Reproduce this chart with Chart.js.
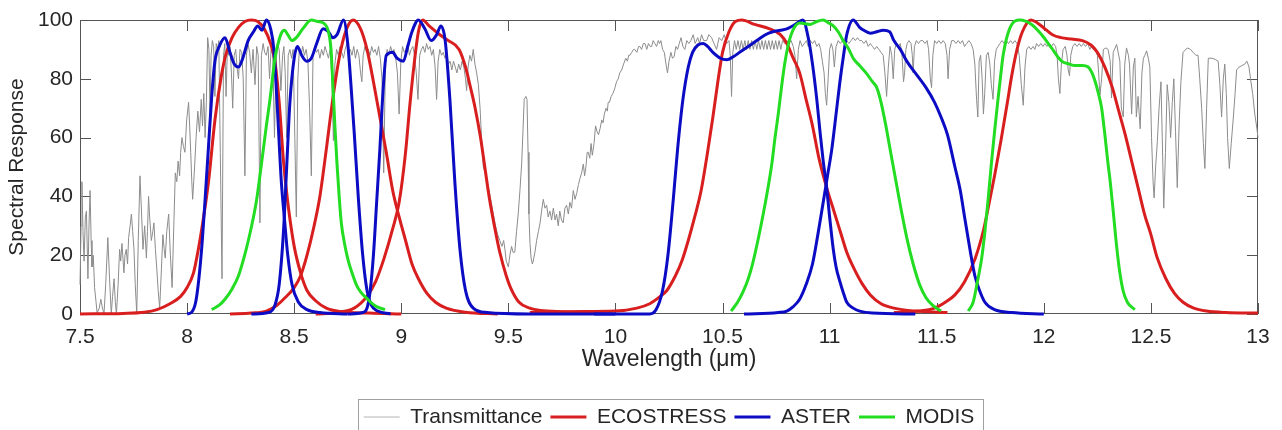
<!DOCTYPE html>
<html>
<head>
<meta charset="utf-8">
<title>Spectral Response</title>
<script src="https://cdn.jsdelivr.net/npm/chart.js@4.4.1/dist/chart.umd.min.js"></script>
<style>
    html, body { margin: 0; padding: 0; background: #ffffff; }
    canvas { display: block; }
</style>
</head>
<body>
<canvas id="grafico-resposta" width="1282" height="430"></canvas>
<script>
// tick labels
const xTicks = [7.5, 8, 8.5, 9, 9.5, 10, 10.5, 11, 11.5, 12, 12.5, 13];
const yTicks = [0, 20, 40, 60, 80, 100];

// legend entries
const legendNames = ['Transmittance', 'ECOSTRESS', 'ASTER', 'MODIS'];

// atmospheric transmittance [wavelength um, %]
const transmittance = [
    [7.500,10],[7.505,30],[7.509,45],[7.514,28],[7.519,18],[7.525,33],[7.530,35],[7.537,12],[7.542,30],[7.547,42],
    [7.552,25],[7.556,16],[7.562,20],[7.568,9],[7.575,4],[7.580,0.3],[7.590,2],[7.597,5],[7.605,2],[7.612,0],
    [7.620,10],[7.630,26],[7.638,12],[7.646,0],[7.652,6],[7.659,12],[7.665,4],[7.670,0],[7.678,10],[7.685,22],
    [7.690,18],[7.696,24],[7.705,14],[7.710,20],[7.716,22],[7.722,17],[7.727,26],[7.734,30],[7.740,34],[7.746,28],
    [7.752,22],[7.758,10],[7.765,0],[7.772,25],[7.780,47],[7.787,35],[7.794,22],[7.802,30],[7.810,19],[7.815,28],
    [7.820,40],[7.826,32],[7.833,25],[7.840,28],[7.845,31],[7.852,22],[7.858,16],[7.865,8],[7.872,2],[7.880,15],
    [7.887,27],[7.893,22],[7.898,19],[7.905,28],[7.914,34],[7.922,20],[7.930,9],[7.938,30],[7.945,48],[7.952,45],
    [7.958,52],[7.965,47],[7.970,55],[7.976,60],[7.983,57],[7.990,55],[7.998,66],[8.007,72],[8.012,64],[8.017,55],
    [8.022,45],[8.026,39],[8.031,45],[8.035,50],[8.042,60],[8.050,69],[8.058,62],[8.066,73],[8.072,64],[8.078,75],
    [8.084,60],[8.090,72],[8.096,94],[8.102,90],[8.107,68],[8.112,88],[8.118,93],[8.124,91],[8.130,74],[8.136,92],
    [8.142,90],[8.148,93],[8.155,55],[8.163,12],[8.170,88],[8.176,92],[8.182,74],[8.188,90],[8.194,88],[8.200,91],
    [8.207,82],[8.213,70],[8.220,88],[8.227,90],[8.233,84],[8.240,80],[8.247,90],[8.255,89],[8.262,80],[8.270,47],
    [8.277,88],[8.284,92],[8.292,89],[8.300,82],[8.308,90],[8.317,78],[8.325,91],[8.332,88],[8.340,31],[8.347,88],
    [8.355,92],[8.362,89],[8.370,88],[8.378,91],[8.385,80],[8.392,90],[8.400,88],[8.408,60],[8.415,85],[8.422,92],
    [8.430,90],[8.438,76],[8.446,88],[8.452,91],[8.458,82],[8.465,60],[8.472,88],[8.480,90],[8.488,87],[8.495,90],
    [8.503,60],[8.510,33],[8.517,80],[8.524,90],[8.532,88],[8.540,91],[8.548,88],[8.556,90],[8.564,86],[8.572,70],
    [8.580,47],[8.588,88],[8.596,91],[8.604,89],[8.612,90],[8.620,87],[8.628,90],[8.636,88],[8.644,91],[8.652,89],
    [8.660,87],[8.668,90],[8.676,80],[8.683,59],[8.690,85],[8.698,90],[8.706,88],[8.714,91],[8.722,89],[8.730,87],
    [8.738,90],[8.746,92],[8.754,89],[8.762,90],[8.770,88],[8.778,91],[8.786,87],[8.794,90],[8.802,88],[8.810,82],
    [8.816,79],[8.822,88],[8.830,91],[8.838,89],[8.846,90],[8.854,88],[8.862,91],[8.870,89],[8.878,90],[8.886,88],
    [8.894,91],[8.902,87],[8.910,80],[8.918,48],[8.926,85],[8.934,90],[8.942,88],[8.950,91],[8.958,89],[8.966,90],
    [8.974,87],[8.982,82],[8.990,68],[8.998,86],[9.006,91],[9.014,89],[9.022,90],[9.030,92],[9.038,88],[9.046,90],
    [9.054,91],[9.062,88],[9.070,82],[9.078,73],[9.086,88],[9.094,90],[9.102,91],[9.110,89],[9.118,92],[9.126,90],
    [9.134,91],[9.142,88],[9.150,90],[9.158,84],[9.165,73],[9.172,86],[9.180,90],[9.188,88],[9.196,89],[9.204,87],
    [9.212,88],[9.220,85],[9.228,86],[9.236,83],[9.244,86],[9.252,84],[9.260,82],[9.268,85],[9.276,83],[9.284,86],
    [9.292,84],[9.300,80],[9.305,76],[9.312,84],[9.320,88],[9.328,86],[9.336,90],[9.344,85],[9.352,82],[9.360,78],
    [9.368,70],[9.376,58],[9.383,50],[9.392,48],[9.400,45],[9.410,42],[9.420,38],[9.430,34],[9.440,30],[9.450,27],
    [9.460,25],[9.470,23],[9.478,25],[9.484,22],[9.490,18],[9.500,16],[9.507,20],[9.515,23],[9.522,21],[9.530,21],
    [9.538,28],[9.546,34],[9.554,42],[9.562,51],[9.568,62],[9.574,73],[9.582,74],[9.587,73],[9.592,55],[9.596,34],
    [9.601,24],[9.606,19],[9.612,17],[9.616,18],[9.624,21],[9.632,25],[9.640,28],[9.648,31],[9.655,35],[9.663,39],
    [9.671,36],[9.679,37],[9.686,33],[9.694,35],[9.702,32],[9.710,36],[9.718,32],[9.725,34],[9.733,30],[9.740,35],
    [9.748,32],[9.756,31],[9.764,36],[9.772,37],[9.780,34],[9.787,38],[9.795,36],[9.803,42],[9.811,39],[9.819,41],
    [9.827,44],[9.834,46],[9.842,48],[9.850,51],[9.856,47],[9.862,50],[9.868,55],[9.873,55],[9.880,53],[9.886,58],
    [9.892,54],[9.900,58],[9.907,64],[9.914,62],[9.921,61],[9.928,63],[9.936,66],[9.942,65],[9.948,68],[9.956,70],
    [9.962,69],[9.966,72],[9.972,72],[9.980,74],[9.988,75],[9.998,77],[10.005,79],[10.013,80],[10.020,82],[10.029,83],
    [10.038,85],[10.048,87],[10.056,86],[10.062,88],[10.068,88],[10.076,89],[10.084,90],[10.090,90],[10.100,89],[10.108,91],
    [10.114,91],[10.122,90],[10.130,92],[10.138,92],[10.146,90],[10.154,92],[10.162,91],[10.169,91],[10.176,93],[10.184,92],
    [10.192,91],[10.200,93],[10.206,92],[10.212,93],[10.220,90],[10.228,89],[10.236,85],[10.243,82],[10.250,86],[10.259,89],
    [10.266,87],[10.274,87.5],[10.282,91],[10.290,90],[10.298,92],[10.306,94],[10.315,91],[10.324,90],[10.333,93],[10.343,92],
    [10.352,93],[10.363,95],[10.372,92],[10.384,94],[10.393,92],[10.402,95],[10.412,93],[10.426,93],[10.436,95],[10.449,94],
    [10.460,92],[10.472,90],[10.484,94],[10.496,93],[10.508,95],[10.519,92],[10.530,93],[10.536,88],[10.542,74],[10.548,89],
    [10.556,93],[10.564,90],[10.572,93],[10.580,90],[10.588,93],[10.596,90],[10.604,93],[10.612,90],[10.620,93],[10.628,90],
    [10.636,93],[10.644,90],[10.652,93],[10.660,90],[10.668,93],[10.676,90],[10.684,93],[10.692,90],[10.700,93],[10.708,90],
    [10.716,93],[10.724,90],[10.732,93],[10.740,90],[10.748,93],[10.756,90],[10.764,93],[10.772,90],[10.780,93],[10.790,92],
    [10.800,93],[10.810,92],[10.820,93],[10.830,91],[10.838,88],[10.846,80],[10.854,90],[10.862,93],[10.872,91],[10.882,92],
    [10.892,93],[10.900,91],[10.910,93],[10.920,92],[10.930,93],[10.940,91],[10.950,92],[10.958,90],[10.966,86],[10.974,82],
    [10.980,75],[10.986,71],[10.993,80],[11.000,90],[11.008,92],[11.015,90],[11.022,84],[11.030,91],[11.040,93],[11.050,92],
    [11.060,93],[11.070,92],[11.080,93],[11.090,92],[11.100,93],[11.110,94],[11.120,93],[11.130,94],[11.140,93],[11.150,93],
    [11.160,92],[11.170,93],[11.180,91],[11.190,92],[11.200,91],[11.210,90],[11.220,91],[11.230,90],[11.240,89],[11.250,88],
    [11.258,82],[11.266,74],[11.274,84],[11.282,91],[11.290,88],[11.297,80],[11.304,90],[11.312,92],[11.320,91],[11.330,92],
    [11.338,88],[11.345,79],[11.350,82],[11.356,90],[11.362,92],[11.370,93],[11.380,92],[11.386,88],[11.390,82],[11.396,91],
    [11.405,93],[11.415,92],[11.425,93],[11.435,93],[11.445,92],[11.455,93],[11.462,90],[11.470,80],[11.476,77],[11.482,88],
    [11.490,93],[11.500,92],[11.510,93],[11.520,92],[11.530,93],[11.540,92],[11.548,88],[11.553,80],[11.560,90],[11.570,93],
    [11.580,93],[11.590,92],[11.600,93],[11.610,92],[11.620,93],[11.630,91],[11.640,92],[11.650,93],[11.660,92],[11.670,90],
    [11.678,85],[11.686,73],[11.692,67],[11.698,86],[11.705,88],[11.712,80],[11.718,68],[11.724,75],[11.732,88],[11.740,89],
    [11.748,85],[11.755,78],[11.763,73],[11.770,86],[11.778,90],[11.786,91],[11.795,92],[11.805,93],[11.815,92],[11.825,93],
    [11.835,92],[11.845,93],[11.855,92],[11.865,93],[11.875,92],[11.885,88],[11.895,78],[11.904,71],[11.912,84],[11.920,90],
    [11.930,91],[11.940,90],[11.950,91],[11.958,90],[11.966,92],[11.976,91],[11.986,92],[11.996,91],[12.005,92],[12.015,91],
    [12.025,92],[12.035,91],[12.045,92],[12.055,91],[12.062,88],[12.068,80],[12.075,75],[12.082,85],[12.090,90],[12.100,91],
    [12.108,88],[12.114,83],[12.120,81],[12.126,88],[12.135,91],[12.145,92],[12.155,91],[12.165,92],[12.175,91],[12.185,92],
    [12.195,91],[12.205,92],[12.215,90],[12.222,91],[12.230,90],[12.240,90],[12.250,88],[12.256,82],[12.262,74.5],[12.270,80],
    [12.278,90],[12.290,90.5],[12.300,90],[12.310,86],[12.316,73.5],[12.324,89],[12.340,91.7],[12.355,86],[12.362,70],[12.371,67],
    [12.378,85],[12.386,90.5],[12.395,88],[12.400,85],[12.410,68],[12.418,84],[12.425,87],[12.432,67],[12.440,74],[12.450,63],
    [12.458,82],[12.465,87],[12.472,88],[12.480,89.5],[12.488,87],[12.495,84],[12.503,60],[12.510,45],[12.515,39.5],[12.522,50],
    [12.530,58.6],[12.538,70],[12.547,79],[12.553,60],[12.560,36],[12.568,55],[12.576,78],[12.584,72],[12.592,60],[12.600,72],
    [12.607,80],[12.615,62],[12.623,43],[12.632,65],[12.640,79],[12.650,89],[12.670,90.5],[12.685,90],[12.697,89],[12.710,88],
    [12.720,88],[12.728,80],[12.737,70],[12.745,58],[12.752,49.5],[12.760,70],[12.768,87],[12.785,87],[12.800,86.6],[12.814,86],
    [12.822,78],[12.830,67],[12.838,80],[12.845,85],[12.852,75],[12.858,60],[12.866,49.5],[12.875,58],[12.885,67],[12.893,75],
    [12.900,83],[12.912,84],[12.925,84.5],[12.938,85],[12.948,86],[12.958,84],[12.965,80],[12.975,75],[12.985,68],[12.995,63],
    [13.000,60]
];

// ECOSTRESS bands
const ecostressB1 = [
    [7.50,0],[7.70,0.2],[7.80,0.6],[7.86,1.5],[7.92,3.5],[7.97,6],[8.00,9],[8.03,14],[8.05,21],[8.075,32],
    [8.10,45],[8.13,66],[8.16,81],[8.18,88],[8.21,94],[8.24,97.5],[8.27,99.5],[8.30,100],[8.33,99.5],[8.36,97],
    [8.39,92],[8.41,86],[8.43,72],[8.45,52],[8.47,38],[8.50,23],[8.53,14],[8.56,8],[8.60,4.5],[8.65,2],
    [8.72,0.8],[8.85,0.3],[9.00,0]
];
const ecostressB2 = [
    [8.20,0],[8.30,0.3],[8.37,1],[8.42,3],[8.45,5],[8.50,9],[8.53,13],[8.56,20],[8.59,29],[8.62,40],
    [8.65,56],[8.68,73],[8.71,87],[8.74,96],[8.775,100],[8.81,97],[8.84,90],[8.87,79],[8.90,67],[8.93,55],
    [8.96,42],[8.99,33],[9.02,25],[9.05,17],[9.08,12],[9.12,7],[9.16,4],[9.21,2],[9.30,0.6],[9.45,0]
];
const ecostressB3 = [
    [8.60,0],[8.70,0.5],[8.78,2],[8.84,6],[8.88,11],[8.92,19],[8.96,29],[8.99,38],[9.02,55],[9.04,71],
    [9.06,85],[9.08,96],[9.10,100],[9.13,98],[9.18,95],[9.22,93],[9.27,90],[9.30,84],[9.32,78],[9.345,70],
    [9.37,60],[9.39,50],[9.41,40],[9.44,28],[9.46,21],[9.49,13],[9.51,9],[9.55,4],[9.60,2],[9.65,1.2],
    [9.75,0.8],[9.90,0.6]
];
const ecostressB4 = [
    [9.60,0.5],[9.80,0.8],[10.00,1],[10.10,2],[10.16,3.5],[10.20,5.5],[10.24,8],[10.28,13],[10.31,18],[10.34,25],
    [10.37,33],[10.40,42],[10.43,55],[10.455,67],[10.48,80],[10.50,89],[10.53,96],[10.56,99.5],[10.59,100],[10.65,98.5],
    [10.72,97],[10.77,95],[10.80,92],[10.83,87],[10.86,82],[10.89,73],[10.92,64],[10.95,53],[10.986,43],[11.02,35],
    [11.05,28],[11.08,21],[11.11,16],[11.15,10.5],[11.19,6.5],[11.24,3.5],[11.30,2],[11.40,1],[11.55,0.5]
];
const ecostressB5 = [
    [11.30,0.5],[11.42,1],[11.49,2],[11.54,4],[11.585,6.5],[11.63,11],[11.68,19],[11.72,29],[11.74,36],[11.77,47],
    [11.80,59],[11.83,72],[11.85,81],[11.875,90],[11.90,96],[11.94,100],[11.97,99],[12.005,97],[12.04,95],[12.08,94],
    [12.13,93.5],[12.18,93],[12.22,91.5],[12.25,89],[12.285,84],[12.32,77],[12.35,69],[12.38,61],[12.41,52],[12.44,43],
    [12.47,34],[12.50,27],[12.53,19],[12.57,12],[12.61,7],[12.65,4],[12.70,2],[12.76,1],[12.85,0.5],[13.00,0.3]
];

// ASTER bands
const asterB10 = [
    [8.00,0],[8.02,0.5],[8.04,4],[8.055,12],[8.07,24],[8.085,40],[8.10,57],[8.115,74],[8.13,86],[8.15,91],
    [8.177,94],[8.20,89],[8.22,85],[8.24,84],[8.26,87],[8.285,93],[8.31,96],[8.33,98],[8.35,96.5],[8.37,100],
    [8.39,97],[8.405,90],[8.42,72],[8.44,45],[8.455,32],[8.47,20],[8.49,10],[8.52,4],[8.56,1.5],[8.62,0.5],
    [8.75,0]
];
const asterB11 = [
    [8.30,0],[8.38,0.5],[8.41,3],[8.43,10],[8.45,28],[8.465,50],[8.48,72],[8.50,87],[8.515,91],[8.535,88],
    [8.558,86],[8.58,87],[8.605,92],[8.635,97],[8.66,96],[8.68,94],[8.70,95],[8.73,100],[8.75,92],[8.765,78],
    [8.78,62],[8.80,39],[8.82,20],[8.84,8],[8.86,3],[8.89,1],[8.95,0]
];
const asterB12 = [
    [8.75,0],[8.82,0.5],[8.84,2],[8.855,8],[8.87,20],[8.885,38],[8.90,56],[8.915,76],[8.93,88],[8.96,89],
    [8.98,87],[9.01,86],[9.03,91],[9.05,96],[9.08,100],[9.11,97],[9.14,93],[9.165,95],[9.185,98],[9.205,93],
    [9.227,73],[9.25,45],[9.274,22],[9.30,8],[9.336,2],[9.40,0.5],[9.60,0],[10.00,0]
];
const asterB13 = [
    [9.90,0],[10.16,0],[10.19,1.5],[10.22,8],[10.245,20],[10.27,39],[10.29,56],[10.315,73],[10.34,84],[10.36,89],
    [10.385,91.5],[10.41,92],[10.43,91],[10.455,89],[10.49,87],[10.52,86.5],[10.55,87.5],[10.58,89],[10.62,91],[10.66,93],
    [10.70,95],[10.735,96],[10.77,96.5],[10.80,97],[10.84,98.5],[10.875,100],[10.90,94],[10.92,85],[10.94,73],[10.955,62],
    [10.97,52],[10.986,43],[11.00,33],[11.017,22],[11.03,16],[11.048,11],[11.065,7],[11.08,4],[11.11,2],[11.14,1],
    [11.20,0.3],[11.40,0]
];
const asterB14 = [
    [10.60,0],[10.76,0.5],[10.80,1],[10.83,2.5],[10.86,5],[10.89,10],[10.92,17],[10.945,27],[10.97,38],[10.99,47],
    [11.01,56],[11.03,68],[11.048,79],[11.065,88],[11.08,95],[11.11,100],[11.14,97.5],[11.157,96.6],[11.19,95.5],[11.22,96],
    [11.25,96.5],[11.28,96],[11.30,93],[11.33,90],[11.36,86],[11.41,81],[11.45,77],[11.49,72],[11.52,67],[11.55,61],
    [11.585,50],[11.61,42],[11.63,33],[11.655,22],[11.678,13],[11.70,8],[11.725,4],[11.77,1.5],[11.85,0.5],[12.00,0]
];

// MODIS bands
const modisB29 = [
    [8.115,1.5],[8.15,3],[8.177,5],[8.21,8.5],[8.24,13],[8.265,19],[8.286,25],[8.31,33],[8.325,39],[8.34,47],
    [8.356,56],[8.37,64],[8.387,73],[8.40,81],[8.41,87],[8.425,92],[8.44,95.5],[8.455,96.5],[8.47,95],[8.49,93],
    [8.51,94],[8.54,97],[8.58,100],[8.61,99.5],[8.635,99],[8.66,96],[8.672,90],[8.68,79],[8.69,64],[8.70,51],
    [8.71,40],[8.72,31],[8.735,24],[8.753,18],[8.77,14],[8.79,10],[8.81,7.5],[8.838,5.4],[8.86,3.8],[8.885,2.5],
    [8.924,1.5]
];
const modisB31 = [
    [10.54,1],[10.57,4],[10.596,7.6],[10.62,12],[10.64,17],[10.665,25],[10.69,34],[10.71,42],[10.73,51],[10.745,60],
    [10.76,68],[10.775,77],[10.79,85],[10.805,91],[10.82,95],[10.84,98],[10.86,99],[10.91,98.5],[10.94,99.5],[10.97,100],
    [10.995,99],[11.017,98],[11.04,96],[11.063,93],[11.09,90],[11.11,87],[11.14,84.5],[11.17,82],[11.20,79],[11.22,77],
    [11.24,72],[11.26,65],[11.28,57],[11.30,49],[11.33,37],[11.36,26],[11.39,17],[11.42,10],[11.45,5.5],[11.48,3],
    [11.52,1]
];
const modisB32 = [
    [11.647,1],[11.67,4],[11.69,11],[11.71,19],[11.725,28],[11.74,39],[11.755,51],[11.77,62],[11.786,73],[11.80,82],
    [11.81,88],[11.84,97],[11.888,100],[11.943,98.5],[11.99,95],[12.036,90.5],[12.083,86],[12.12,85],[12.145,84.5],[12.18,84.5],
    [12.207,84],[12.225,82],[12.24,79],[12.255,75],[12.27,70],[12.285,61],[12.30,51],[12.31,45],[12.324,35],[12.34,23],
    [12.355,14],[12.37,8],[12.39,4],[12.425,1.5]
];

const FONTE = "'Liberation Sans', Arial, Helvetica, sans-serif";
const COR_TEXTO = '#262626';
const CORES = {
    Transmittance: '#8c8c8c',
    ECOSTRESS: '#d81e1e',
    ASTER: '#0c0cc4',
    MODIS: '#22dd22'
};

function toXY(pares) {
    return pares.map(p => ({ x: p[0], y: p[1] }));
}

function banda(nome, pares, ordem) {
    return {
        label: nome,
        data: toXY(pares),
        borderColor: CORES[nome],
        backgroundColor: CORES[nome],
        borderWidth: 3,
        pointRadius: 0,
        cubicInterpolationMode: 'monotone',
        order: ordem,
        clip: 4
    };
}

const datasets = [
    {
        label: 'Transmittance',
        data: toXY(transmittance),
        borderColor: CORES.Transmittance,
        backgroundColor: CORES.Transmittance,
        borderWidth: 1,
        pointRadius: 0,
        tension: 0,
        order: 4,
        clip: 2
    },
    banda('ECOSTRESS', ecostressB1, 3),
    banda('ECOSTRESS', ecostressB2, 3),
    banda('ECOSTRESS', ecostressB3, 3),
    banda('ECOSTRESS', ecostressB4, 3),
    banda('ECOSTRESS', ecostressB5, 3),
    banda('ASTER', asterB10, 2),
    banda('ASTER', asterB11, 2),
    banda('ASTER', asterB12, 2),
    banda('ASTER', asterB13, 2),
    banda('ASTER', asterB14, 2),
    banda('MODIS', modisB29, 1),
    banda('MODIS', modisB31, 1),
    banda('MODIS', modisB32, 1)
];

// box and inward ticks, drawn under the curves like MATLAB
const caixaEixos = {
    id: 'caixaEixos',
    beforeDatasetsDraw(chart) {
        const { ctx, chartArea: a, scales: { x, y } } = chart;
        const L = 11;
        ctx.save();
        ctx.strokeStyle = '#555555';
        ctx.lineWidth = 1;
        ctx.beginPath();
        ctx.rect(a.left + 0.5, a.top + 0.5, a.right - a.left - 1, a.bottom - a.top - 1);
        xTicks.forEach(v => {
            const px = Math.round(x.getPixelForValue(v)) + 0.5;
            ctx.moveTo(px, a.bottom);
            ctx.lineTo(px, a.bottom - L);
            ctx.moveTo(px, a.top);
            ctx.lineTo(px, a.top + L);
        });
        yTicks.forEach(v => {
            const py = Math.round(y.getPixelForValue(v)) + 0.5;
            ctx.moveTo(a.left, py);
            ctx.lineTo(a.left + L, py);
            ctx.moveTo(a.right, py);
            ctx.lineTo(a.right - L, py);
        });
        ctx.stroke();
        ctx.restore();
    }
};

// frame round the legend items
const moldura = {
    id: 'moldura',
    afterDraw(chart) {
        const lg = chart.legend;
        if (!lg || !lg.legendHitBoxes || !lg.legendHitBoxes.length) return;
        const hb = lg.legendHitBoxes;
        const esq = hb[0].left - 6;
        const ult = hb[hb.length - 1];
        const dir = ult.left + ult.width + 8;
        const topo = lg.top;
        const ctx = chart.ctx;
        ctx.save();
        ctx.strokeStyle = '#a0a0a0';
        ctx.lineWidth = 1;
        ctx.strokeRect(Math.round(esq) + 0.5, Math.round(topo) + 0.5, Math.round(dir - esq), Math.round(429 - topo));
        ctx.restore();
    }
};

const ctxResposta = document.getElementById('grafico-resposta');

const grafico = new Chart(ctxResposta, {
    type: 'line',
    data: { datasets: datasets },
    plugins: [caixaEixos, moldura],
    options: {
        responsive: false,
        animation: false,
        devicePixelRatio: 1,
        layout: {
            padding: { top: 20, right: 24, bottom: -7.5, left: 0 }
        },
        scales: {
            x: {
                type: 'linear',
                min: 7.5,
                max: 13,
                afterBuildTicks: function (scale) {
                    scale.ticks = xTicks.map(v => ({ value: v }));
                },
                afterFit: function (scale) {
                    scale.height = 84.5;
                },
                grid: { display: false, drawTicks: false, tickLength: 0 },
                border: { display: false },
                ticks: {
                    autoSkip: false,
                    maxRotation: 0,
                    padding: 11,
                    color: COR_TEXTO,
                    font: { family: FONTE, size: 21 },
                    callback: function (value) {
                        return String(value);
                    }
                },
                title: {
                    display: true,
                    text: 'Wavelength (\u03bcm)',
                    color: COR_TEXTO,
                    font: { family: FONTE, size: 23 },
                    padding: { top: 0, bottom: 25 }
                }
            },
            y: {
                min: 0,
                max: 100,
                afterBuildTicks: function (scale) {
                    scale.ticks = yTicks.map(v => ({ value: v }));
                },
                afterFit: function (scale) {
                    scale.width = 80;
                },
                grid: { display: false, drawTicks: false, tickLength: 0 },
                border: { display: false },
                ticks: {
                    padding: 7,
                    color: COR_TEXTO,
                    font: { family: FONTE, size: 21 },
                    callback: function (value) {
                        return String(value);
                    }
                },
                title: {
                    display: true,
                    text: 'Spectral Response',
                    color: COR_TEXTO,
                    font: { family: FONTE, size: 21 },
                    padding: { top: 5, bottom: 0 }
                }
            }
        },
        plugins: {
            tooltip: { enabled: false },
            legend: {
                position: 'bottom',
                fullSize: false,
                labels: {
                    usePointStyle: true,
                    pointStyleWidth: 36,
                    padding: 8,
                    color: COR_TEXTO,
                    font: { family: FONTE, size: 21 },
                    generateLabels: function (chart) {
                        return legendNames.map(nome => {
                            const i = chart.data.datasets.findIndex(d => d.label === nome);
                            return {
                                text: nome,
                                datasetIndex: i,
                                strokeStyle: nome === 'Transmittance' ? '#b4b4b4' : CORES[nome],
                                fillStyle: CORES[nome],
                                lineWidth: nome === 'Transmittance' ? 1 : 3,
                                pointStyle: 'line',
                                hidden: false,
                                fontColor: COR_TEXTO
                            };
                        });
                    }
                }
            }
        }
    }
});
</script>
</body>
</html>
